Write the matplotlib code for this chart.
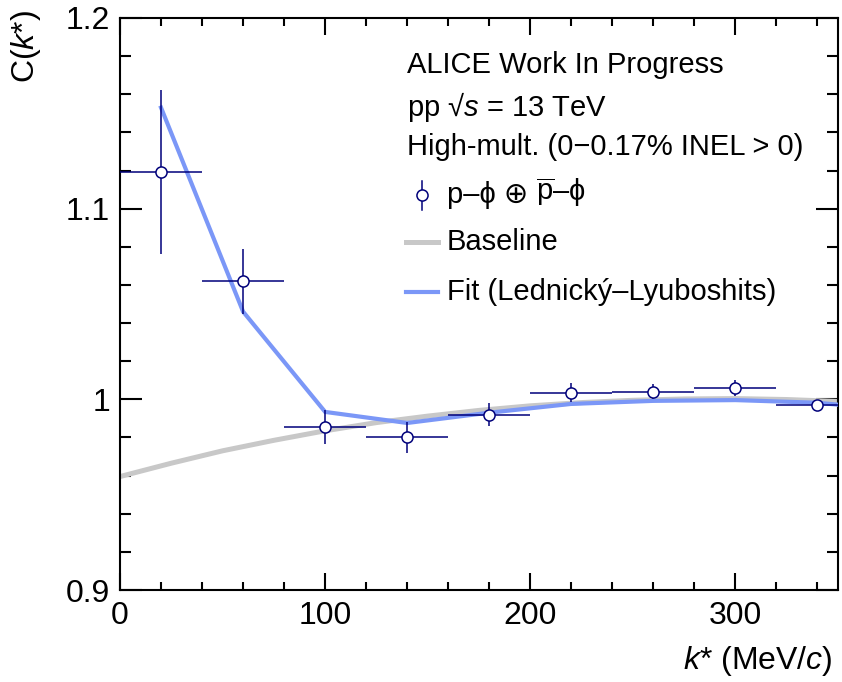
import matplotlib
matplotlib.use("Agg")
import matplotlib.pyplot as plt
from matplotlib.lines import Line2D
from matplotlib.ticker import MultipleLocator

plt.rcParams['font.family'] = ['Liberation Sans', 'DejaVu Sans']
plt.rcParams['mathtext.fontset'] = 'custom'
plt.rcParams['mathtext.rm'] = 'Liberation Sans'
plt.rcParams['mathtext.it'] = 'Liberation Sans:italic'

# data points (bin centres, MeV/c)
kstar = [20, 60, 100, 140, 180, 220, 260, 300, 340]
ck = [1.119, 1.062, 0.9855, 0.980, 0.992, 1.0034, 1.004, 1.006, 0.9968]
ck_err = [0.043, 0.017, 0.009, 0.008, 0.006, 0.005, 0.004, 0.004, 0.003]
kstar_err = [20] * 9

# fit (Lednicky-Lyuboshits) evaluated at bin centres
fit_k = [20, 60, 100, 140, 180, 220, 260, 300, 340, 350]
fit_c = [1.153, 1.046, 0.9934, 0.9876, 0.9930, 0.9976, 0.9992, 0.9996, 0.9982, 0.9972]

# baseline
base_k = [0, 25, 50, 75, 100, 125, 150, 175, 200, 225, 250, 275, 300, 325, 350]
base_c = [0.9595, 0.9665, 0.9730, 0.9785, 0.9835, 0.9878, 0.9912, 0.9942, 0.9966,
          0.9983, 0.9995, 1.0002, 1.0004, 0.9999, 0.9989]

navy = '#00007a'
blue = '#7b97f7'
grey = '#c8c8c8'

fig = plt.figure(figsize=(8.42, 6.82), dpi=100)
ax = fig.add_axes([120 / 842, 92 / 682, 718 / 842, 572 / 682])

ax.plot(base_k, base_c, color=grey, lw=3.6, solid_capstyle='butt', zorder=2)
ax.plot(fit_k, fit_c, color=blue, lw=3.0, solid_joinstyle='miter', zorder=3)
ax.errorbar(kstar, ck, yerr=ck_err, xerr=kstar_err, fmt='o', color=navy,
            mfc='white', mec=navy, ms=8, mew=1.1, elinewidth=1.1, capsize=0,
            zorder=4)

ax.set_xlim(0, 350)
ax.set_ylim(0.9, 1.2)
ax.xaxis.set_major_locator(MultipleLocator(100))
ax.xaxis.set_minor_locator(MultipleLocator(20))
ax.yaxis.set_major_locator(MultipleLocator(0.1))
ax.yaxis.set_minor_locator(MultipleLocator(0.02))
ax.set_yticks([0.9, 1.0, 1.1, 1.2])
ax.set_yticklabels(['0.9', '1', '1.1', '1.2'])

for s in ax.spines.values():
    s.set_linewidth(1.5)
ax.tick_params(axis='both', which='both', direction='in', top=True, right=True,
               width=1.5, labelsize=23)
ax.tick_params(axis='x', which='major', length=12.2, pad=8)
ax.tick_params(axis='x', which='minor', length=6.1)
ax.tick_params(axis='y', which='major', length=15.5, pad=7)
ax.tick_params(axis='y', which='minor', length=7.7)

ax.set_xlabel(r'$k$* (MeV/$c$)', fontsize=23, ha='right')
ax.xaxis.set_label_coords(0.992, -0.095)
ax.set_ylabel(r'C($k$*)', fontsize=23, ha='right')
ax.yaxis.set_label_coords(-0.107, 1.014)

# header text
fs = 21
tx = 0.400
ax.text(tx, 0.918, 'ALICE Work In Progress', transform=ax.transAxes,
        fontsize=fs, va='center')
ax.text(tx, 0.844, r'pp √$s$ = 13 TeV', transform=ax.transAxes,
        fontsize=fs, va='center')
ax.text(tx, 0.774, 'High-mult. (0−0.17% INEL > 0)', transform=ax.transAxes,
        fontsize=fs, va='center')

# legend
lx0, lx1, ltx = 0.398, 0.443, 0.455
ax.add_line(Line2D([0.4205, 0.4205], [0.665, 0.715], transform=ax.transAxes,
                   color=navy, lw=1.1))
ax.add_line(Line2D([0.4205], [0.690], transform=ax.transAxes, marker='o',
                   ms=8, mfc='white', mec=navy, mew=1.1, ls='none'))
t1 = ax.text(ltx, 0.690, 'p–ϕ ⊕', transform=ax.transAxes,
             fontsize=fs, va='center')
ax.annotate(r'$\overline{\rm p}$–ϕ', xy=(1, 0), xycoords=t1,
            xytext=(5.5, 0), textcoords='offset points',
            fontsize=fs, va='bottom', ha='left')
ax.add_line(Line2D([lx0, lx1], [0.608, 0.608], transform=ax.transAxes,
                   color=grey, lw=3.6))
ax.text(ltx, 0.608, 'Baseline', transform=ax.transAxes, fontsize=fs, va='center')
ax.add_line(Line2D([lx0, lx1], [0.521, 0.521], transform=ax.transAxes,
                   color=blue, lw=3.0))
ax.text(ltx, 0.521, 'Fit (Lednický–Lyuboshits)', transform=ax.transAxes,
        fontsize=fs, va='center')

fig.savefig('out.png', dpi=100)
